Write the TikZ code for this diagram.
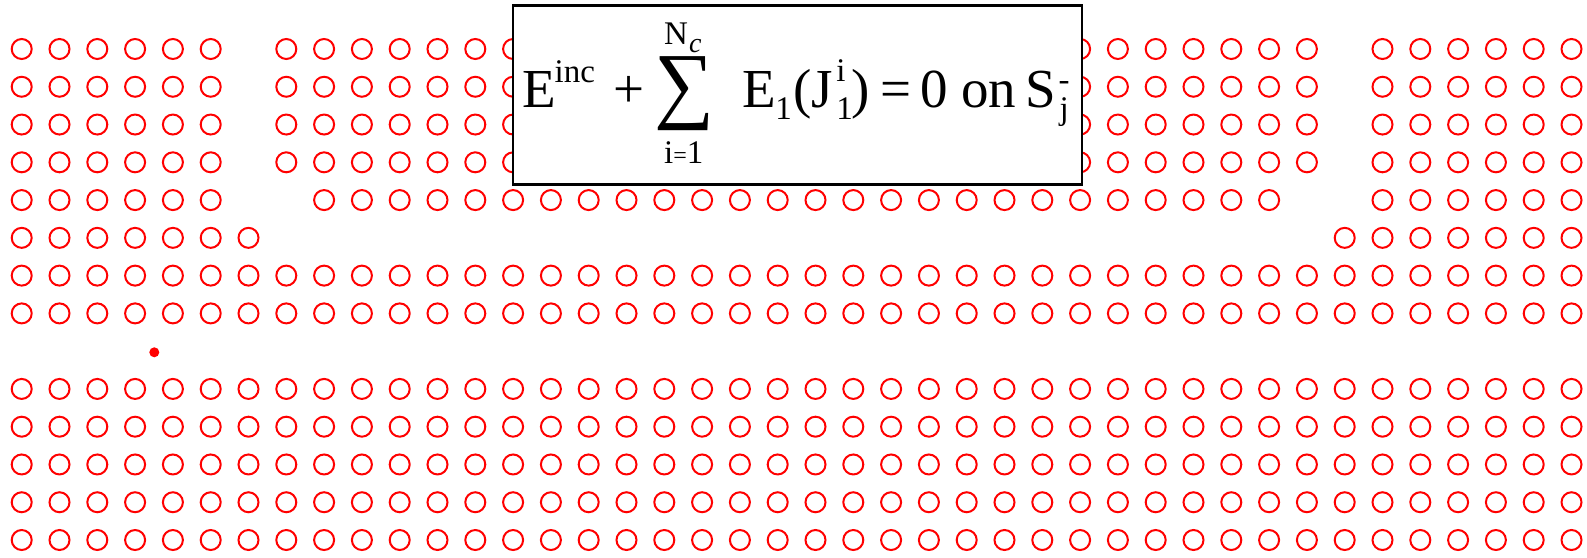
\documentclass[tikz,border=0pt]{standalone}
\usepackage{graphicx}
\usepackage{fontspec}
\setmainfont{Liberation Serif}
\begin{document}
\begin{tikzpicture}[x=1pt,y=1pt,
  ring/.style={draw=red, line width=2pt},
  eqbox/.style={draw=black, line width=2.7pt, fill=white, inner sep=0pt,
    minimum width=569pt, minimum height=178.8pt},
  bigt/.style={font=\fontsize{55}{62}\selectfont, inner sep=0pt, anchor=base west},
  smallt/.style={font=\fontsize{33}{37}\selectfont, inner sep=0pt, anchor=base west}]
\useasboundingbox (0,0) rectangle (1587,557);
\fill[white] (0,0) rectangle (1587,557);
\foreach \r/\a/\b in {
  0/0/5, 0/7/34, 0/36/41,
  1/0/5, 1/7/34, 1/36/41,
  2/0/5, 2/7/34, 2/36/41,
  3/0/5, 3/7/34, 3/36/41,
  4/0/5, 4/8/33, 4/36/41,
  5/0/6, 5/35/41,
  6/0/41, 7/0/41,
  9/0/41, 10/0/41, 11/0/41, 12/0/41, 13/0/41}{
  \foreach \k in {\a,...,\b} {
    \draw[ring] ({21.7+37.8*\k},{508-37.77*\r}) circle[radius=10];
  }
}
\fill[red] (154.3,204.7) circle[radius=5];
\node[eqbox] (eq) at (797.5,462.1) {};
% formula
\node[bigt] (E) at (522,449.3) {E};
\node[smallt] (inc) at (554.5,474.3) {inc};
\node[bigt] (plus) at (613.5,449.3) {+};
\node[inner sep=0pt] (sum) at (684.7,463.7) {\resizebox*{60pt}{74pt}{\char"2211}};
\node[smallt] (N) at (664,512) {N};
\node[smallt, font=\fontsize{28}{32}\selectfont\itshape] (c) at (689,504) {c};
\node[smallt] (ilim) at (664,393.7) {i{\fontsize{24}{26}\selectfont=}1};
\node[bigt] (E1) at (742.5,449.3) {E};
\node[smallt] (one1) at (775.2,437) {1};
\node[bigt] (lp) at (793.5,449.3) {(};
\node[bigt] (J) at (811,449.3) {J};
\node[smallt] (isup) at (836.2,475.3) {i};
\node[smallt] (one2) at (836.2,437) {1};
\node[bigt] (rp) at (851,449.3) {)};
\node[bigt] (eqs) at (880,449.3) {=};
\node[bigt] (zero) at (920.5,449.3) {0};
\node[bigt] (on) at (961,449.3) {on};
\node[bigt] (S) at (1025,449.3) {S};
\node[smallt] (minus) at (1058.5,466) {-};
\node[smallt] (j) at (1059.5,437) {j};
\end{tikzpicture}
\end{document}
